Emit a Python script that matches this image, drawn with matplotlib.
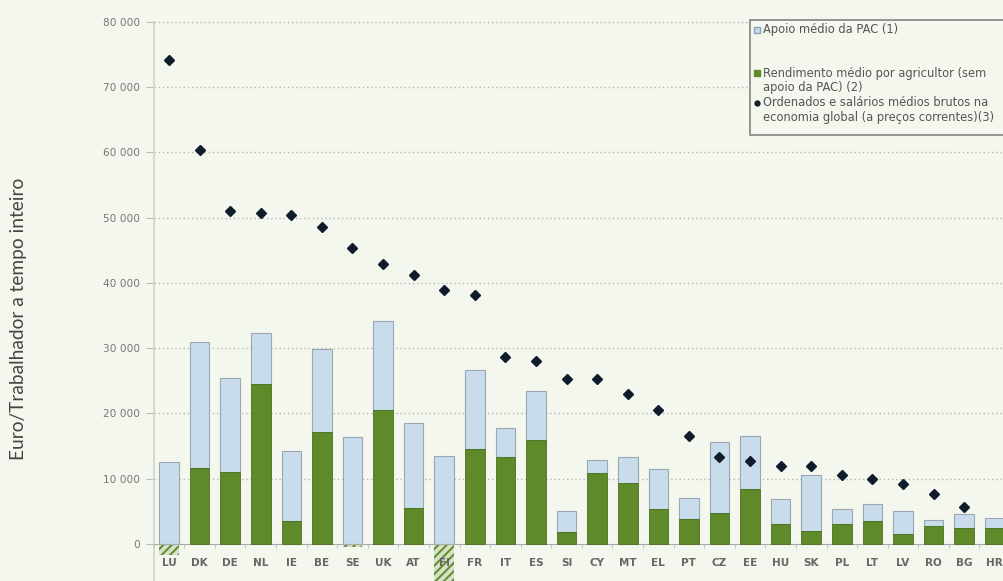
import numpy as np
import matplotlib.pyplot as plt
from matplotlib.patches import Rectangle

# --- dados ---
paises = ["LU", "DK", "DE", "NL", "IE", "BE", "SE", "UK", "AT", "FI", "FR", "IT", "ES", "SI",
          "CY", "MT", "EL", "PT", "CZ", "EE", "HU", "SK", "PL", "LT", "LV", "RO", "BG", "HR"]
# rendimento médio por agricultor sem apoio da PAC (negativo = tracejado)
rendimento = [-1700, 11600, 11100, 24500, 3500, 17100, -400, 20600, 5500, -7000, 14600, 13300,
              15900, 1800, 10900, 9300, 5400, 3800, 4700, 8400, 3100, 2000, 3100, 3600, 1500,
              2800, 2400, 2400]
# altura total da barra (rendimento + apoio PAC)
total = [12500, 31000, 25400, 32400, 14200, 29900, 16400, 34200, 18500, 13500, 26700, 17800,
         23500, 5000, 12900, 13300, 11500, 7000, 15700, 16600, 6900, 10600, 5300, 6100, 5000,
         3700, 4600, 4000]
# ordenados e salários médios brutos na economia global
salarios = [74100, 60400, 51100, 50800, 50400, 48600, 45300, 42900, 41300, 38900, 38200, 28600,
            28000, 25300, 25300, 23000, 20600, 16600, 13400, 12700, 12000, 11900, 10500, 9900,
            9200, 7600, 5700, np.nan]

bg = "#f4f7ee"
azul = "#c9dcec"
verde = "#5e8a2a"

x = np.arange(len(paises))
rend = np.array(rendimento, dtype=float)
tot = np.array(total, dtype=float)
base_pac = np.clip(rend, 0, None)
apoio = tot - base_pac

fig = plt.figure(figsize=(10.04, 5.81), dpi=100, facecolor=bg)
ax = fig.add_axes([153.7 / 1004, 0, (1010 - 153.7) / 1004, 1])
ax.set_facecolor(bg)

ax.set_xlim(-0.5, len(paises) - 0.5)
ax.set_ylim(-5670, 83370)

# grelha pontilhada
for v in range(10000, 90000, 10000):
    ax.axhline(v, color="#b5b5b5", lw=1, ls=(0, (1, 2)), zorder=0)

w = 0.64
# apoio PAC (azul)
ax.bar(x, apoio, w, bottom=base_pac, color=azul, edgecolor="#9aa6b0", lw=0.8, zorder=2)
# rendimento positivo (verde)
pos = rend > 0
ax.bar(x[pos], rend[pos], w, color=verde, edgecolor="#4b6f20", lw=0.6, zorder=3)
# rendimento negativo (tracejado)
neg = rend < 0
plt.rcParams['hatch.color'] = verde
plt.rcParams['hatch.linewidth'] = 1.4
ax.bar(x[neg], rend[neg], w, color="#d5e2c8", edgecolor=verde, hatch="////", lw=0, zorder=1)

# salários
ax.plot(x, salarios, ls="none", marker="D", ms=5.5, color="#101c2c", zorder=4)

# eixos
for s in ["top", "right"]:
    ax.spines[s].set_visible(False)
ax.spines["bottom"].set_position(("data", 0))
ax.spines["bottom"].set_color("#aaaaaa")
ax.spines["left"].set_color("#cfd3c8")
ax.spines["left"].set_linewidth(1.2)
ax.spines["left"].set_bounds(-5670, 80000)

ax.set_yticks(range(0, 90000, 10000))
ax.set_yticklabels([f"{v:,}".replace(",", " ") if v else "0" for v in range(0, 90000, 10000)])
ax.tick_params(axis="y", length=6, width=0.8, color="#bbbbbb", labelsize=7.6, labelcolor="#777777", pad=4)

ax.set_xticks(x)
ax.set_xticklabels(paises)
ax.set_xticks(np.arange(-0.5, len(paises), 1), minor=True)
ax.tick_params(axis="x", which="major", length=0, labelsize=7.5, labelcolor="#666666", pad=10)
ax.tick_params(axis="x", which="minor", length=3, color="#bbbbbb")
for t in ax.get_xticklabels():
    t.set_fontweight("bold")

fig.text(19 / 1004, 1 - 319 / 581, "Euro/Trabalhador a tempo inteiro", rotation=90,
         ha="center", va="center", fontsize=13.8, color="#444444",
         family="Lato", fontweight="normal")

# legenda
fig.patches.append(Rectangle((750 / 1004, 1 - 135 / 581), 0.3, 115 / 581,
                             transform=fig.transFigure, facecolor=bg,
                             edgecolor="#8c8c8c", lw=1.3, zorder=5))
leg_items = [
    (30, "s", azul, "#8aa0b8", "Apoio médio da PAC (1)"),
    (73, "s", verde, verde, "Rendimento médio por agricultor (sem"),
    (88, None, None, None, "apoio da PAC) (2)"),
    (103, "o", "#101c2c", "#101c2c", "Ordenados e salários médios brutos na"),
    (118, None, None, None, "economia global (a preços correntes)(3)"),
]
for ypx, mk, fc, ec, txt in leg_items:
    yy = 1 - ypx / 581
    if mk:
        fig.lines.append(plt.Line2D([757 / 1004], [yy], marker=mk, ms=5 if mk == "s" else 3.5,
                                    markerfacecolor=fc, markeredgecolor=ec, ls="none",
                                    transform=fig.transFigure, zorder=6))
    fig.text(763 / 1004, yy, txt, ha="left", va="center", fontsize=8.3,
             color="#555555", zorder=6)

fig.savefig("out.png", dpi=100, facecolor=bg)
